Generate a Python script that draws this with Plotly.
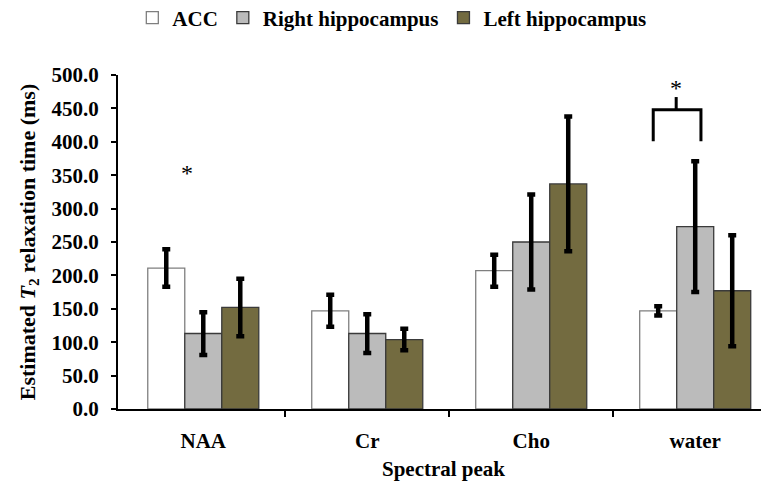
import plotly.graph_objects as go

categories = ["NAA", "Cr", "Cho", "water"]
series_names = ["ACC", "Right hippocampus", "Left hippocampus"]
acc_values = [211, 147, 207, 147]
acc_errors = [28, 24, 24, 7]
right_values = [113, 113, 250, 273]
right_errors = [32, 29, 71, 98]
left_values = [152, 104, 337, 177]
left_errors = [43, 16, 101, 83]
y_ticks = [0, 50, 100, 150, 200, 250, 300, 350, 400, 450, 500]

# significance markers (category index offset, value)
naa_star = (-0.10, 353)
water_star = (2.884, 481)
water_bracket_x = [2.744, 2.884, 3.035]
water_bracket_y = [401, 448, 467]

font_family = "Liberation Serif, Times New Roman, serif"
xpos = list(range(len(categories)))

fills = ["#FFFFFF", "#BBBBBB", "#736B40"]
outlines = ["#7F7F7F", "#3A3A3A", "#3A3A3A"]
vals = [acc_values, right_values, left_values]
errs = [acc_errors, right_errors, left_errors]

fig = go.Figure()
for name, v, e, fc, lc in zip(series_names, vals, errs, fills, outlines):
    fig.add_trace(go.Bar(
        x=xpos, y=v, name=name,
        marker=dict(color=fc, line=dict(color=lc, width=1.3)),
        error_y=dict(type="data", array=e, visible=True, color="black",
                     thickness=4.5, width=4),
    ))

# bracket
bx, by = water_bracket_x, water_bracket_y
fig.add_shape(type="path", xref="x", yref="y",
              path=f"M{bx[0]},{by[0]} L{bx[0]},{by[1]} L{bx[2]},{by[1]} L{bx[2]},{by[0]}",
              line=dict(color="black", width=3))
fig.add_shape(type="line", xref="x", yref="y", x0=bx[1], x1=bx[1], y0=by[1], y1=by[2],
              line=dict(color="black", width=3))
for sx, sy in [naa_star, water_star]:
    fig.add_annotation(x=sx, y=sy, xref="x", yref="y", text="*", showarrow=False,
                       font=dict(size=24, family=font_family, color="black", weight="normal"),
                       yanchor="middle")

# page body has an 8px default margin, so the figure is sized/offset to compensate
fig.update_layout(
    width=761, height=477,
    margin=dict(l=110, r=0, t=67, b=76, autoexpand=False),
    paper_bgcolor="white", plot_bgcolor="white",
    font=dict(family=font_family, size=21, color="black", weight="bold"),
    barmode="group", bargap=0.323, bargroupgap=0,
    showlegend=True,
    legend=dict(orientation="h", x=0.022, xanchor="left", y=1.171, yanchor="middle",
                font=dict(size=21), itemwidth=30, tracegroupgap=0),
)
fig.update_xaxes(
    range=[-0.52, 3.45], tickmode="array", tickvals=xpos, ticktext=categories,
    ticks="", ticklabelstandoff=12,
    showline=True, linecolor="black", linewidth=2, showgrid=False, zeroline=False,
    minor=dict(tickvals=[0.5, 1.5, 2.5], ticks="outside", ticklen=6, tickwidth=2, tickcolor="black"),
    title=dict(text="Spectral peak", font=dict(size=21), standoff=9),
)
fig.update_yaxes(
    range=[0, 500], tickmode="array", tickvals=y_ticks, tickformat=".1f",
    ticks="outside", ticklen=5, tickwidth=2, tickcolor="black", ticklabelstandoff=8,
    showline=True, linecolor="black", linewidth=2, showgrid=False, zeroline=False,
    title=dict(text="Estimated <i>T</i><sub>2</sub> relaxation time (ms)", font=dict(size=22), standoff=10),
)

fig.write_html("out.html")
